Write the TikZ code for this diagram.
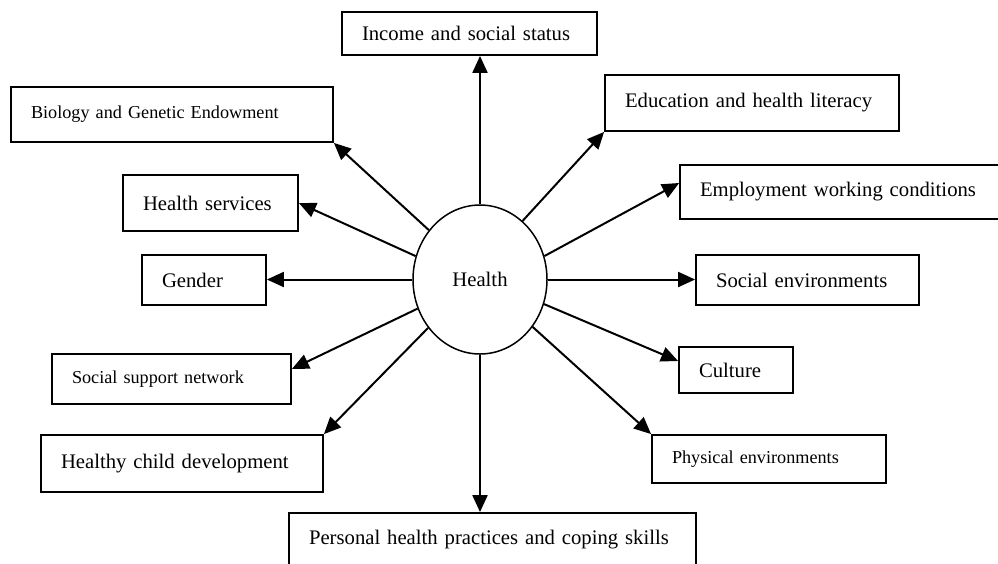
\documentclass[tikz,border=0pt]{standalone}
\usepackage{fontspec}
\setmainfont{Liberation Serif}
\usetikzlibrary{arrows.meta,shapes.geometric}
\begin{document}
\begin{tikzpicture}[x=1pt,y=-1pt,
    factor/.style={draw,line width=1.8pt,inner xsep=20pt,inner ysep=0pt,align=left,
        font=\fontsize{20.7}{24}\selectfont},
    small/.style={font=\fontsize{18.2}{22}\selectfont},
    link/.style={line width=2pt,-{Triangle[length=17pt,width=15pt]}}]
\useasboundingbox (0,0) rectangle (998,563);
% centre
\node[draw,ellipse,line width=1.5pt,minimum width=134pt,minimum height=149pt,inner sep=0pt,
    font=\fontsize{20.7}{24}\selectfont] (health) at (480,279.5) {Health};
% factors
\node[factor,text width=215pt,minimum height=43pt] (income) at (469.5,33.5) {Income and social status};
\node[factor,small,text width=282pt,minimum height=55pt] (biology) at (172,114.5) {Biology and Genetic Endowment};
\node[factor,text width=254pt,minimum height=56pt] (education) at (752,103) {Education and health literacy};
\node[factor,text width=135pt,minimum height=56pt] (services) at (210.5,203) {Health services};
\node[factor,text width=290pt,minimum height=54pt] (employment) at (845,192) {Employment working conditions};
\node[factor,text width=84pt,minimum height=50pt] (gender) at (204,280) {Gender};
\node[factor,text width=183pt,minimum height=50pt] (socialenv) at (807.5,280) {Social environments};
\node[factor,small,text width=199pt,minimum height=50pt] (support) at (171.5,379) {Social support network};
\node[factor,text width=74pt,minimum height=46pt] (culture) at (736,370) {Culture};
\node[factor,text width=242pt,minimum height=57pt] (child) at (182,463.5) {Healthy child development};
\node[factor,small,text width=194pt,minimum height=48pt] (physical) at (769,459) {Physical environments};
\node[factor,text width=367pt,minimum height=54pt] (personal) at (492.5,540) {Personal health practices and coping skills};
% arrows
\draw[link] (health.90) -- (health.90 |- income.south);
\draw[link] (health.136) -- (biology.south east);
\draw[link] (health.160) -- (services.east);
\draw[link] (health.180) -- (health.180 -| gender.east);
\draw[link] (health.205) -- ([yshift=10pt]support.east);
\draw[link] (health.223) -- (child.north east);
\draw[link] (health.270) -- (health.270 |- personal.north);
\draw[link] (health.318) -- (physical.north west);
\draw[link] (health.339) -- ([yshift=9pt]culture.west);
\draw[link] (health.0) -- (health.0 -| socialenv.west);
\draw[link] (health.20) -- ([yshift=9pt]employment.west);
\draw[link] (health.54) -- (education.south west);
\end{tikzpicture}
\end{document}
